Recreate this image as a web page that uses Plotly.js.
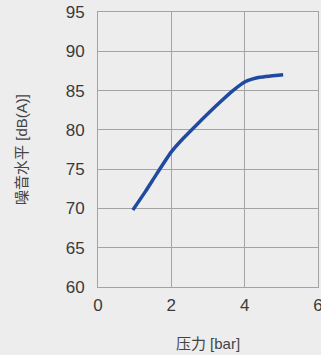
<!DOCTYPE html>
<html>
<head>
<meta charset="utf-8">
<script src="https://cdn.plot.ly/plotly-3.0.1.min.js"></script>
<style>html,body{margin:0;padding:0;background:#ededed;}#chart{width:321px;height:355px;}</style>
</head>
<body>
<div id="chart"></div>
<script>
const pressure = [0.95, 1.3, 1.6, 2.0, 2.32, 2.68, 3.23, 3.68, 4.0, 4.2, 4.41, 4.7, 5.05];
const noise = [69.8, 72.2, 74.4, 77.2, 78.9, 80.6, 83.1, 85.0, 86.1, 86.45, 86.7, 86.85, 87.0];
const xTicks = [0, 2, 4, 6];
const yTicks = [60, 65, 70, 75, 80, 85, 90, 95];
const xTitle = '压力 [bar]';
const yTitle = '噪音水平 [dB(A)]';

const font = '"Liberation Sans", Arial, "Noto Sans CJK SC", sans-serif';
Plotly.newPlot('chart', [{
  x: pressure, y: noise, mode: 'lines', type: 'scatter',
  line: {color: '#1f4aa0', width: 3.5, shape: 'spline', smoothing: 0.6},
  hoverinfo: 'skip'
}], {
  width: 321, height: 355,
  margin: {l: 98, r: 3, t: 12, b: 68},
  paper_bgcolor: '#ededed', plot_bgcolor: '#ededed',
  showlegend: false,
  font: {family: font, color: '#333'},
  xaxis: {
    range: [0, 6], tickvals: xTicks, ticktext: xTicks.map(String),
    showgrid: true, gridcolor: '#a3a3a3', gridwidth: 1,
    showline: true, mirror: true, linecolor: '#a3a3a3', linewidth: 1,
    zeroline: false, ticks: '', ticklabelstandoff: 3, ticklabeloverflow: 'allow',
    tickfont: {size: 17, color: '#3a3a3a'},
    title: {text: xTitle, font: {size: 15, color: '#444'}, standoff: 24}
  },
  yaxis: {
    range: [60, 95], tickvals: yTicks, ticktext: yTicks.map(String),
    showgrid: true, gridcolor: '#a3a3a3', gridwidth: 1,
    showline: true, mirror: true, linecolor: '#a3a3a3', linewidth: 1,
    zeroline: false, ticks: '', ticklabelstandoff: 9,
    tickfont: {size: 17, color: '#3a3a3a'},
    title: {text: yTitle, font: {size: 15, color: '#444'}, standoff: 34}
  }
}, {staticPlot: true, displayModeBar: false});
</script>
</body>
</html>
